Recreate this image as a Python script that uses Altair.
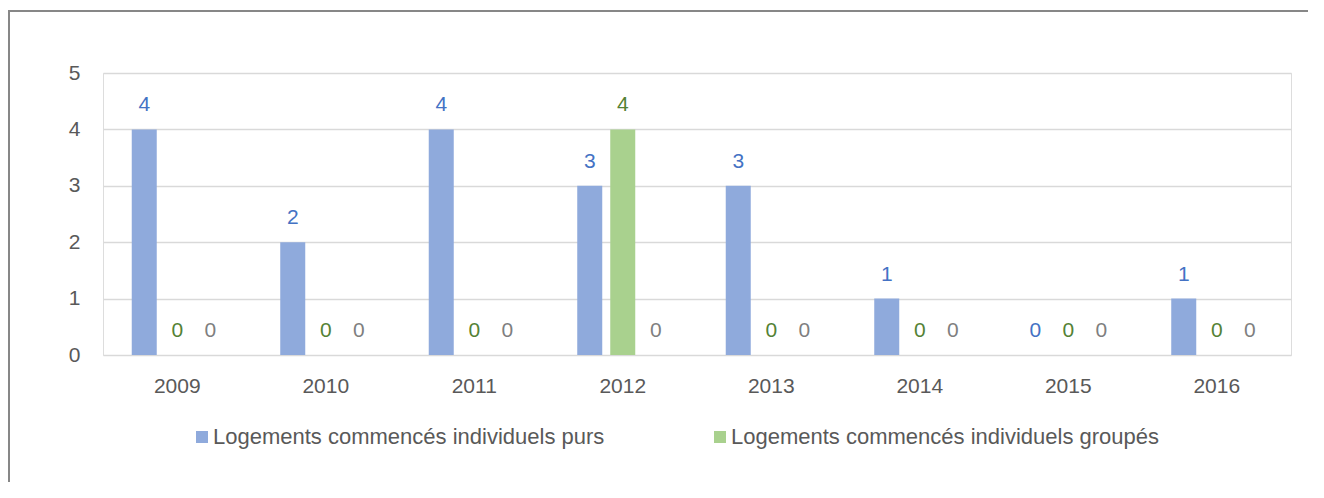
import altair as alt
import pandas as pd

years = ["2009", "2010", "2011", "2012", "2013", "2014", "2015", "2016"]
series = [
    "Logements commencés individuels purs",
    "Logements commencés individuels groupés",
    "Autres",
]
purs = [4, 2, 4, 3, 3, 1, 0, 1]
groupes = [0, 0, 0, 4, 0, 0, 0, 0]
autres = [0, 0, 0, 0, 0, 0, 0, 0]

bar_colors = ["#8FAADC", "#A9D18E", "#A5A5A5"]
label_colors = ["#4472C4", "#548235", "#7F7F7F"]

rows = []
for s, vals in zip(series, [purs, groupes, autres]):
    for y, v in zip(years, vals):
        rows.append({"year": y, "series": s, "value": v})
df = pd.DataFrame(rows)

FONT = "Liberation Sans"

x_enc = alt.X("year:N", sort=years, title=None,
              scale=alt.Scale(paddingInner=0, paddingOuter=0),
              axis=alt.Axis(labelAngle=0, domain=False, ticks=False, labelPadding=20,
                            labelFontSize=21, labelColor="#595959", labelFont=FONT))
xo_enc = alt.XOffset("series:N", sort=series,
                     scale=alt.Scale(domain=series, paddingInner=0.2424, paddingOuter=0.871))
y_enc = alt.Y("value:Q", title=None,
              scale=alt.Scale(domain=[0, 5]),
              axis=alt.Axis(values=[0, 1, 2, 3, 4, 5], format="d", domain=False, ticks=False,
                            labelPadding=23, labelFontSize=21, labelColor="#595959",
                            labelFont=FONT, gridColor="#D9D9D9", gridWidth=1.3))

base = alt.Chart(df)

bars = base.mark_bar().encode(
    x=x_enc,
    xOffset=xo_enc,
    y=y_enc,
    color=alt.Color("series:N", sort=series,
                    scale=alt.Scale(domain=series, range=bar_colors),
                    legend=alt.Legend(values=series[:2], title=None, orient="none",
                                      direction="horizontal", legendX=88, legendY=353,
                                      symbolType="square", symbolSize=144,
                                      symbolStrokeWidth=0, labelFontSize=22,
                                      labelFont=FONT, labelColor="#595959",
                                      labelOffset=0, columnPadding=104, labelLimit=600)),
)

labels = base.mark_text(dy=-18, baseline="alphabetic", fontSize=21, font=FONT).encode(
    x=alt.X("year:N", sort=years),
    xOffset=alt.XOffset("series:N", sort=series),
    y=alt.Y("value:Q"),
    text=alt.Text("value:Q"),
    color=alt.Color("series:N", scale=alt.Scale(domain=series, range=label_colors), legend=None),
)

frame_df = pd.DataFrame({"k": [0]})
top_border = alt.Chart(frame_df).mark_rule(color="#878787", strokeWidth=2).encode(
    x=alt.value(-95), x2=alt.value(1240), y=alt.value(-62)
)
left_border = alt.Chart(frame_df).mark_rule(color="#878787", strokeWidth=2).encode(
    x=alt.value(-94), y=alt.value(-62), y2=alt.value(430)
)

chart = alt.layer(bars, labels, top_border, left_border).resolve_scale(
    color="independent"
).properties(
    width=1188, height=282,
    padding={"left": 95, "top": 65, "right": 17, "bottom": 127},
    autosize=alt.AutoSizeParams(type="none"),
).configure_view(stroke=None).configure(background="white")

chart.save("out.html", embed_options={"renderer": "svg", "actions": False})
